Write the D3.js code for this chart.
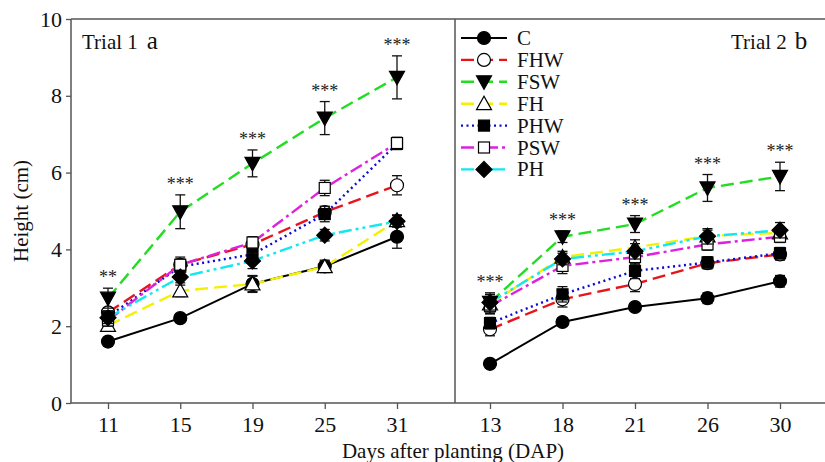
<!DOCTYPE html>
<html><head><meta charset="utf-8">
<script src="https://cdn.jsdelivr.net/npm/d3@7"></script>
<style>body{margin:0;background:#fff}svg{display:block}</style>
</head><body>
<svg id="c" width="825" height="462"></svg>
<script>
// ---- data ----
const series = ["C","FHW","FSW","FH","PHW","PSW","PH"];
const days1 = ["11","15","19","25","31"];
const days2 = ["13","18","21","26","30"];
const yTicks = [0,2,4,6,8,10];

// Trial 1 means and SE
const t1_C   = [1.6, 2.21, 3.1, 3.56, 4.33];
const t1_FHW = [2.36, 3.6, 4.13, 4.97, 5.67];
const t1_FSW = [2.73, 4.98, 6.24, 7.42, 8.48];
const t1_FH  = [2.02, 2.92, 3.1, 3.55, 4.75];
const t1_PHW = [2.25, 3.55, 3.87, 4.92, 6.75];
const t1_PSW = [2.15, 3.6, 4.18, 5.6, 6.77];
const t1_PH  = [2.22, 3.28, 3.7, 4.37, 4.73];
const e1_C   = [0.06, 0.07, 0.22, 0.16, 0.3];
const e1_FHW = [0.12, 0.15, 0.15, 0.15, 0.25];
const e1_FSW = [0.26, 0.44, 0.35, 0.43, 0.56];
const e1_FH  = [0.15, 0.15, 0.2, 0.15, 0.15];
const e1_PHW = [0.15, 0.15, 0.2, 0.2, 0.15];
const e1_PSW = [0.15, 0.2, 0.15, 0.2, 0.15];
const e1_PH  = [0.15, 0.15, 0.2, 0.15, 0.15];

// Trial 2 means and SE
const t2_C   = [1.02, 2.11, 2.5, 2.73, 3.17];
const t2_FHW = [1.92, 2.7, 3.1, 3.64, 3.87];
const t2_FSW = [2.62, 4.33, 4.66, 5.6, 5.9];
const t2_FH  = [2.58, 3.8, 4.05, 4.35, 4.43];
const t2_PHW = [2.08, 2.83, 3.44, 3.66, 3.9];
const t2_PSW = [2.52, 3.57, 3.8, 4.13, 4.33];
const t2_PH  = [2.62, 3.75, 3.95, 4.34, 4.5];
const e2_C   = [0.1, 0.1, 0.1, 0.14, 0.15];
const e2_FHW = [0.17, 0.2, 0.2, 0.15, 0.15];
const e2_FSW = [0.25, 0.15, 0.22, 0.35, 0.37];
const e2_FH  = [0.25, 0.15, 0.2, 0.15, 0.15];
const e2_PHW = [0.15, 0.2, 0.2, 0.15, 0.15];
const e2_PSW = [0.2, 0.2, 0.2, 0.15, 0.15];
const e2_PH  = [0.2, 0.15, 0.2, 0.2, 0.2];

const sig1 = ["**","***","***","***","***"];
const sig2 = ["***","***","***","***","***"];

// ---- styles ----
const style = {
  C:   {color:"#000000", dash:null,                 sym:"circle",   fill:"#000"},
  FHW: {color:"#e8141b", dash:"13,6",               sym:"circle",   fill:"#fff"},
  FSW: {color:"#22dd22", dash:"13,6",               sym:"tridown",  fill:"#000"},
  FH:  {color:"#f5f000", dash:"13,6",               sym:"triup",    fill:"#fff"},
  PHW: {color:"#0a0ad0", dash:"2,3.5",              sym:"square",   fill:"#000"},
  PSW: {color:"#dd22dd", dash:"13,4,3,4",           sym:"square",   fill:"#fff"},
  PH:  {color:"#11e8f0", dash:"13,4,3,4,3,4",       sym:"diamond",  fill:"#000"}
};

const svg = d3.select("#c");
const FONT = "'Liberation Serif','Times New Roman',serif";
const L = 71, R = 825, T = 19, B = 403, MID = 455;

const y = d3.scaleLinear().domain([0,10]).range([B,T]);
const x1 = d3.scalePoint().domain(days1).range([108,397]);
const x2 = d3.scalePoint().domain(days2).range([490,780]);

const axisColor = "#555";

// y axis
const ya = svg.append("g").attr("transform",`translate(${L},0)`)
  .call(d3.axisLeft(y).tickValues(yTicks).tickSize(5).tickPadding(4).tickFormat(d3.format("d")));
ya.select(".domain").remove();
ya.selectAll("line").attr("stroke",axisColor).attr("stroke-width",1.3);
ya.selectAll("text").attr("font-family",FONT).attr("font-size",22).attr("fill","#111");

// x axes
function xAxis(sc){
  const g = svg.append("g").attr("transform",`translate(0,${B})`)
    .call(d3.axisBottom(sc).tickSize(6).tickPadding(7));
  g.select(".domain").remove();
  g.selectAll("line").attr("stroke",axisColor).attr("stroke-width",1.3);
  g.selectAll("text").attr("font-family",FONT).attr("font-size",22).attr("fill","#111");
}
xAxis(x1); xAxis(x2);

// frame
const fr = svg.append("g").attr("stroke",axisColor).attr("stroke-width",1.5).attr("fill","none");
fr.append("line").attr("x1",L).attr("x2",R).attr("y1",B).attr("y2",B);
fr.append("line").attr("x1",L).attr("x2",R).attr("y1",T).attr("y2",T);
fr.append("line").attr("x1",L).attr("x2",L).attr("y1",T).attr("y2",B);
fr.append("line").attr("x1",MID).attr("x2",MID).attr("y1",T).attr("y2",B);

// axis titles
svg.append("text").attr("transform",`translate(28,${(T+B)/2}) rotate(-90)`)
  .attr("text-anchor","middle").attr("font-family",FONT).attr("font-size",21).attr("fill","#111")
  .text("Height (cm)");
svg.append("text").attr("x",453).attr("y",458).attr("text-anchor","middle")
  .attr("font-family",FONT).attr("font-size",21).attr("fill","#111")
  .text("Days after planting (DAP)");

// panel labels
svg.append("text").attr("x",82).attr("y",49).attr("font-family",FONT).attr("font-size",21).attr("fill","#111")
  .text("Trial 1").append("tspan").attr("dx",9).attr("font-size",25).text("a");
svg.append("text").attr("x",731).attr("y",49).attr("font-family",FONT).attr("font-size",21).attr("fill","#111")
  .text("Trial 2").append("tspan").attr("dx",8).attr("font-size",25).text("b");

// symbols
function drawSym(g, sym, cx, cy, fill){
  let el;
  const s = 6.5;
  if(sym==="circle"){
    el = g.append("circle").attr("cx",cx).attr("cy",cy).attr("r",s);
  } else if(sym==="square"){
    el = g.append("rect").attr("x",cx-5.5).attr("y",cy-5.5).attr("width",11).attr("height",11);
  } else if(sym==="tridown"){
    el = g.append("path").attr("d",`M${cx-7.5},${cy-6}L${cx+7.5},${cy-6}L${cx},${cy+7.5}Z`);
  } else if(sym==="triup"){
    el = g.append("path").attr("d",`M${cx-7.5},${cy+6}L${cx+7.5},${cy+6}L${cx},${cy-7.5}Z`);
  } else if(sym==="diamond"){
    el = g.append("path").attr("d",`M${cx},${cy-8}L${cx+8},${cy}L${cx},${cy+8}L${cx-8},${cy}Z`);
  }
  el.attr("fill",fill).attr("stroke","#000").attr("stroke-width",1.2);
}

const panels = [
  {x:x1, days:days1, mean:{C:t1_C,FHW:t1_FHW,FSW:t1_FSW,FH:t1_FH,PHW:t1_PHW,PSW:t1_PSW,PH:t1_PH},
   se:{C:e1_C,FHW:e1_FHW,FSW:e1_FSW,FH:e1_FH,PHW:e1_PHW,PSW:e1_PSW,PH:e1_PH}, sig:sig1},
  {x:x2, days:days2, mean:{C:t2_C,FHW:t2_FHW,FSW:t2_FSW,FH:t2_FH,PHW:t2_PHW,PSW:t2_PSW,PH:t2_PH},
   se:{C:e2_C,FHW:e2_FHW,FSW:e2_FSW,FH:e2_FH,PHW:e2_PHW,PSW:e2_PSW,PH:e2_PH}, sig:sig2}
];

panels.forEach(p=>{
  // lines
  series.forEach(s=>{
    const st = style[s];
    const pts = p.days.map((d,i)=>[p.x(d), y(p.mean[s][i])]);
    svg.append("path").attr("d",d3.line()(pts)).attr("fill","none")
      .attr("stroke",st.color).attr("stroke-width", s==="C"?2:2.4)
      .attr("stroke-dasharray",st.dash);
  });
  // error bars + markers
  series.forEach(s=>{
    const st = style[s];
    const g = svg.append("g");
    p.days.forEach((d,i)=>{
      const cx = p.x(d), m = p.mean[s][i], e = p.se[s][i];
      const eg = g.append("g").attr("stroke","#111").attr("stroke-width",1.3);
      eg.append("line").attr("x1",cx).attr("x2",cx).attr("y1",y(m+e)).attr("y2",y(m-e));
      eg.append("line").attr("x1",cx-5).attr("x2",cx+5).attr("y1",y(m+e)).attr("y2",y(m+e));
      eg.append("line").attr("x1",cx-5).attr("x2",cx+5).attr("y1",y(m-e)).attr("y2",y(m-e));
      drawSym(g, st.sym, cx, y(m), st.fill);
    });
  });
  // significance
  p.days.forEach((d,i)=>{
    const top = d3.max(series, s=>p.mean[s][i]+p.se[s][i]);
    svg.append("text").attr("x",p.x(d)).attr("y",y(top)-5).attr("text-anchor","middle")
      .attr("font-family",FONT).attr("font-size",18).attr("fill","#222")
      .text(p.sig[i]);
  });
});

// legend
const lg = svg.append("g");
series.forEach((s,i)=>{
  const st = style[s];
  const cy = 38 + i*21.9;
  lg.append("line").attr("x1",461).attr("x2",507).attr("y1",cy).attr("y2",cy)
    .attr("stroke",st.color).attr("stroke-width",s==="C"?2.2:2.4).attr("stroke-dasharray",st.dash);
  drawSym(lg, st.sym, 484, cy, st.fill);
  lg.append("text").attr("x",517).attr("y",cy+7).attr("font-family",FONT).attr("font-size",21)
    .attr("fill","#111").text(s);
});
</script>
</body></html>
